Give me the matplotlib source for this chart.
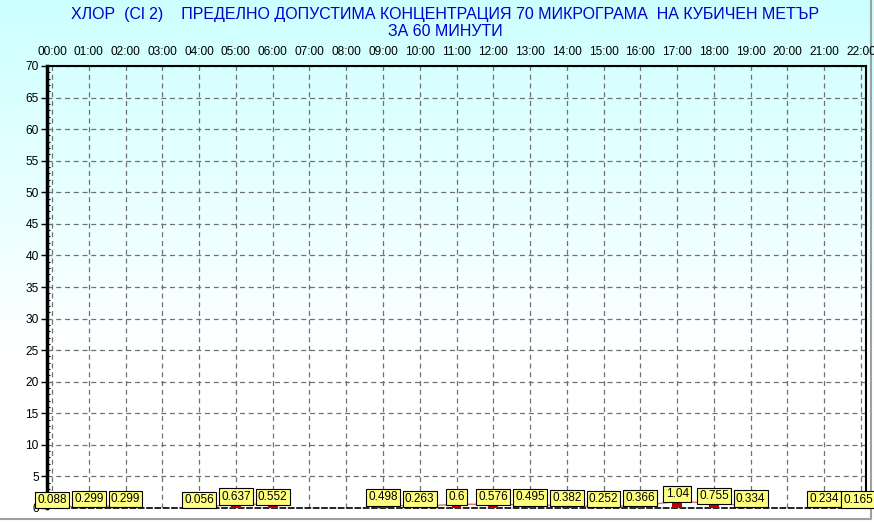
import numpy as np
import matplotlib
matplotlib.use('Agg')
import matplotlib.pyplot as plt
from matplotlib.colors import LinearSegmentedColormap

plt.rcParams['font.family'] = ['Liberation Sans', 'DejaVu Sans']

# данни: часове и стойности (None = няма измерване)
hours = ['00:00', '01:00', '02:00', '03:00', '04:00', '05:00', '06:00', '07:00',
         '08:00', '09:00', '10:00', '11:00', '12:00', '13:00', '14:00', '15:00',
         '16:00', '17:00', '18:00', '19:00', '20:00', '21:00', '22:00']
values = [0.088, 0.299, 0.299, None, 0.056, 0.637, 0.552, None,
          None, 0.498, 0.263, 0.6, 0.576, 0.495, 0.382, 0.252,
          0.366, 1.04, 0.755, 0.334, None, 0.234, 0.165]
yticks = list(range(0, 75, 5))

title1 = 'ХЛОР  (Cl 2)    ПРЕДЕЛНО ДОПУСТИМА КОНЦЕНТРАЦИЯ 70 МИКРОГРАМА  НА КУБИЧЕН МЕТЪР'
title2 = 'ЗА 60 МИНУТИ'

fig = plt.figure(figsize=(8.74, 5.29), dpi=100)

# фон с преливане от светло синьо към бяло
bg = fig.add_axes([0, 0, 1, 1], zorder=-10)
cmap = LinearSegmentedColormap.from_list('bg', ['#ffffff', '#ffffff', '#e6ffff', '#ccffff'])
grad = np.linspace(0, 1, 256).reshape(-1, 1)
bg.imshow(grad, aspect='auto', cmap=cmap, origin='lower', extent=[0, 1, 0, 1])
bg.set_xlim(0, 1)
bg.set_ylim(0, 1)
bg.axis('off')
bg.plot([0, 0.9966, 0.9966], [0.0189, 0.0189, 1], color='#a0a0a0', lw=1.5)

ax = fig.add_axes([47 / 874, 21 / 529, 819 / 874, 442 / 529])
ax.patch.set_alpha(0)

x = np.arange(len(hours))
vals = np.array([np.nan if v is None else v for v in values])

ax.plot(x, vals, color='#e07070', lw=1, zorder=2)
ax.bar(x, np.nan_to_num(vals), width=0.27, color='#c00000', zorder=3)

for xi, v in zip(x, values):
    if v is None:
        continue
    dx = -2 if xi == x[-1] else 0
    ax.annotate(str(v), (xi, v), xytext=(dx, 1), textcoords='offset points',
                ha='center', va='bottom', fontsize=8.5, zorder=5,
                bbox=dict(boxstyle='square,pad=0.18', fc='#ffff80', ec='black', lw=0.8))

ax.set_xlim(-0.136, 22.136)
ax.set_ylim(0, 70)
ax.set_xticks(x)
ax.set_xticklabels(hours, fontsize=8.6)
ax.xaxis.tick_top()
ax.tick_params(axis='x', length=0, pad=6)
ax.set_yticks(yticks)
ax.set_yticklabels([str(t) for t in yticks], fontsize=8.6)
ax.set_yticks(np.arange(0, 71, 1), minor=True)
ax.tick_params(axis='y', which='major', direction='out', length=4, width=1, pad=2)
ax.tick_params(axis='y', which='minor', direction='in', length=2, width=0.8)
ax.grid(True, color='#707070', ls=(0, (4, 3)), lw=0.9)
ax.set_axisbelow(True)

ax.spines['left'].set_linewidth(2.5)
ax.spines['top'].set_linewidth(1.5)
ax.spines['right'].set_linewidth(1.5)
ax.spines['bottom'].set_linestyle((0, (3, 2)))
ax.spines['bottom'].set_linewidth(1.2)

fig.text(445 / 874, 1 - 15 / 529, title1, ha='center', va='center', fontsize=11.5, color='#0000cc')
fig.text(445 / 874, 1 - 32 / 529, title2, ha='center', va='center', fontsize=11.5, color='#0000cc')

fig.savefig('out.png', dpi=100)
